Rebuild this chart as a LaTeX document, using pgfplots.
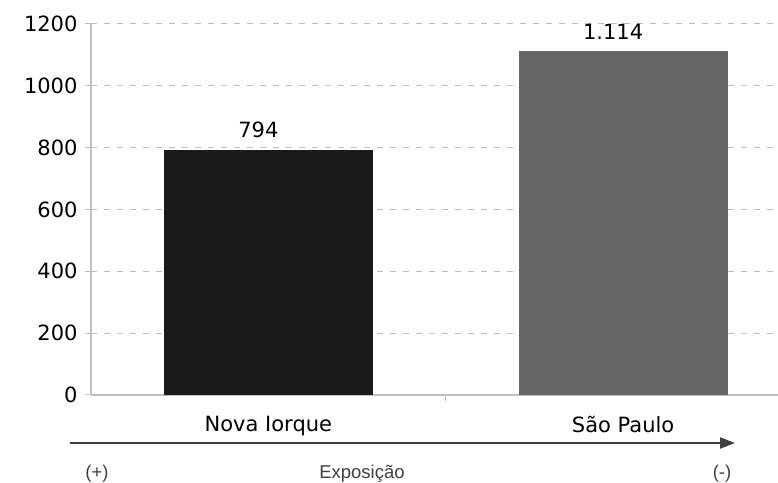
\documentclass[border=0pt]{standalone}
\usepackage{fontspec}
\setmainfont{DejaVu Sans}
\newfontfamily\arialfont{Liberation Sans}
\usepackage{pgfplots}
\pgfplotsset{compat=1.18}
\usetikzlibrary{arrows.meta}
\definecolor{axiscol}{HTML}{BFBFBF}
\definecolor{gridcol}{HTML}{BDBDBD}
\definecolor{barA}{HTML}{1A1A1A}
\definecolor{barB}{HTML}{666666}
\definecolor{arrowcol}{HTML}{404040}
\begin{document}
\begin{tikzpicture}[x=1bp,y=1bp]
\begin{axis}[
  at={(0,0)}, anchor=south west,
  scale only axis, width=687bp, height=371bp,
  xmin=-0.5, xmax=1.4366, ymin=0, ymax=1200,
  axis x line*=bottom, axis y line*=left,
  axis line style={draw=axiscol, line width=1.2bp},
  ytick={0,200,...,1200},
  xtick={0,1}, xticklabels={Nova Iorque, São Paulo},
  xtick style={draw=none},
  ytick style={draw=gridcol, line width=1bp},
  tick align=outside, major tick length=6bp,
  ymajorgrids,
  grid style={draw=gridcol, line width=1bp, dash pattern=on 6bp off 7bp},
  extra x ticks={0.5}, extra x tick labels={},
  extra x tick style={grid=none, major tick length=6bp, xtick style={draw=axiscol, line width=1.2bp}},
  yticklabel style={font=\fontsize{21bp}{24bp}\selectfont, xshift=-4bp},
  xticklabel style={font=\fontsize{21bp}{24bp}\selectfont, yshift=-12bp},
  tick label style={text=black},
  /pgf/number format/assume math mode=true,
  /pgf/number format/1000 sep={},
  clip=false,
]
\addplot[ybar, bar width=209bp, bar shift=0pt, fill=barA, draw=none,
  point meta=explicit symbolic, nodes near coords,
  nodes near coords style={font=\fontsize{21bp}{24bp}\selectfont, text=black, xshift=-10bp, yshift=8bp}]
  coordinates {(0,794) [794]};
\addplot[ybar, bar width=209bp, bar shift=0pt, fill=barB, draw=none,
  point meta=explicit symbolic, nodes near coords,
  nodes near coords style={font=\fontsize{21bp}{24bp}\selectfont, text=black, xshift=-10bp, yshift=8bp}]
  coordinates {(1,1114) [1.114]};
\end{axis}
\draw[line width=2.2bp, color=arrowcol, -{Triangle[length=15bp,width=11bp]}] (-21,-48) -- (644,-48);
\node[font=\arialfont\fontsize{18.5bp}{22bp}\selectfont, text=arrowcol] at (6,-79) {(+)};
\node[font=\arialfont\fontsize{18.5bp}{22bp}\selectfont, text=arrowcol] at (271,-79) {Exposição};
\node[font=\arialfont\fontsize{18.5bp}{22bp}\selectfont, text=arrowcol] at (631,-79) {(-)};
\pgfresetboundingbox
\path (-91,-88) rectangle (687,395);
\end{tikzpicture}
\end{document}
